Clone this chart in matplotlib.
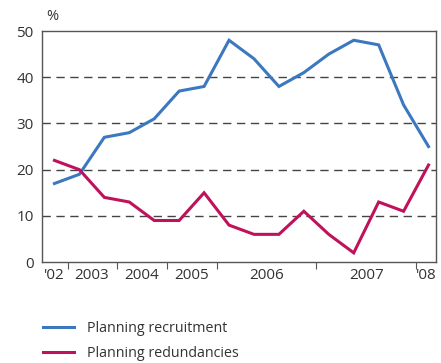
import matplotlib
matplotlib.use("Agg")
import matplotlib.pyplot as plt
from matplotlib.lines import Line2D

recruitment = [17, 19, 27, 28, 31, 37, 38, 48, 44, 38, 41, 45, 48, 47, 34, 25]
redundancies = [22, 20, 14, 13, 9, 9, 15, 8, 6, 6, 11, 6, 2, 13, 11, 21]
year_labels = ["'02", "2003", "2004", "2005", "2006", "2007", "'08"]
year_label_pos = [0, 1.5, 3.5, 5.5, 8.5, 12.5, 14.9]
year_ticks = [0.55, 2.5, 4.5, 6.5, 10.5, 14.5]

blue = "#3b78c0"
red = "#c0125a"
grey = "#555555"

plt.rcParams['font.family'] = ['Open Sans', 'DejaVu Sans']

fig = plt.figure(figsize=(4.41, 3.63), dpi=100)
ax = fig.add_axes([0.0952, 0.278, 0.8935, 0.6366])
x = list(range(len(recruitment)))
ax.plot(x, recruitment, color=blue, lw=2.2, solid_joinstyle='miter')
ax.plot(x, redundancies, color=red, lw=2.2, solid_joinstyle='miter')

ax.set_xlim(-0.5, 15.3)
ax.set_ylim(0, 50)
ax.set_yticks([0, 10, 20, 30, 40, 50])
ax.tick_params(axis='y', length=0, labelsize=11, colors='#333333', pad=6)
for yv in [10, 20, 30, 40]:
    ax.axhline(yv, color='#444444', lw=1.0, ls=(0, (6, 4)), zorder=0)

ax.set_xticks(year_ticks)
ax.set_xticklabels([])
ax.tick_params(axis='x', which='major', length=5, color=grey, direction='out')
ax.set_xticks(year_label_pos, minor=True)
ax.set_xticklabels(year_labels, minor=True)
ax.tick_params(axis='x', which='minor', length=0, labelsize=11, colors='#333333', pad=4)

for s in ax.spines.values():
    s.set_color(grey)
    s.set_linewidth(1.0)

fig.text(0.105, 0.955, "%", fontsize=10.5, color='#333333', ha='left', va='center')

handles = [Line2D([], [], color=blue, lw=2.2), Line2D([], [], color=red, lw=2.2)]
fig.legend(handles, ["Planning recruitment", "Planning redundancies"],
           loc='upper left', bbox_to_anchor=(0.068, 0.152), frameon=False,
           fontsize=10.3, handlelength=2.2, handletextpad=0.9, labelspacing=0.75,
           labelcolor='#333333')

fig.savefig("out.png", dpi=100)
